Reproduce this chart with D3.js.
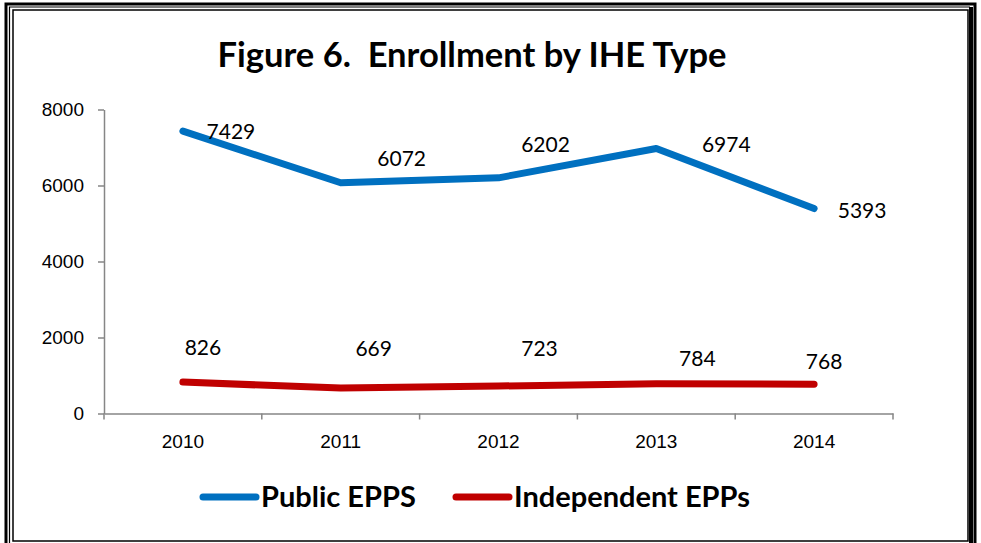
<!DOCTYPE html>
<html>
<head>
<meta charset="utf-8">
<script src="https://cdn.jsdelivr.net/npm/d3@7"></script>
<style>
    body { margin: 0; background: #fff; }
    svg { display: block; font-family: Lato, "Open Sans", sans-serif; }
    .axis path, .axis line { stroke: #868686; stroke-width: 1.5; }
    .axis text { fill: #000; font-size: 19px; }
    .line { fill: none; stroke-width: 7; stroke-linecap: round; stroke-linejoin: round; }
    .label { font-size: 21px; fill: #000; }
</style>
</head>
<body>
<script>

var years = ["2010", "2011", "2012", "2013", "2014"];
var publicEpps = [7429, 6072, 6202, 6974, 5393];
var independentEpps = [826, 669, 723, 784, 768];
var yTicks = [0, 2000, 4000, 6000, 8000];

// where each data label sits, relative to its point
var publicLabelOffset = [[48, 0], [61, -24], [47, -33], [70, -4], [48, 2]];
var independentLabelOffset = [[20, -34], [33, -39], [41, -37], [41, -25], [10, -23]];

var width = 981
    , height = 543
    , margin = {left: 104, right: 88, top: 109.5, bottom: 129.5}
    , w = width - margin.left - margin.right
    , h = height - margin.top - margin.bottom;

var svg = d3.select("body").append("svg")
    .attr("width", width)
    .attr("height", height);

// page border: three nested frames
var border = svg.append("g").attr("fill", "none").attr("stroke", "#000");
border.append("path").attr("stroke-width", 3).attr("d", "M6,560 V4 H975 V560");
border.append("path").attr("stroke-width", 1.2).attr("d", "M9.5,560 V7 H970");
border.append("path").attr("stroke-width", 4).attr("d", "M971,7 V560");
border.append("path").attr("stroke-width", 1.5).attr("d", "M13,541 V10 H968 V541 Z");

svg.append("text")
    .attr("x", 472)
    .attr("y", 67)
    .attr("text-anchor", "middle")
    .style("font-size", "34.5px")
    .style("font-weight", "bold")
    .attr("xml:space", "preserve")
    .text("Figure 6.  Enrollment by IHE Type");

var g = svg.append("g")
    .attr("transform", "translate(" + margin.left + "," + margin.top + ")");

var x = d3.scaleBand()
    .domain(years)
    .range([0, w]);

var y = d3.scaleLinear()
    .domain([0, 8000])
    .range([h, 0]);

var xAxis = d3.axisBottom(x)
    .tickSize(0)
    .tickPadding(21);

var gx = g.append("g")
    .attr("class", "axis axis--x")
    .attr("transform", "translate(0," + h + ")")
    .call(xAxis);

// Excel-style ticks between categories
gx.selectAll(".sep")
    .data(d3.range(years.length + 1))
    .enter().append("line")
    .attr("class", "sep")
    .attr("x1", function(i) { return i * x.step(); })
    .attr("x2", function(i) { return i * x.step(); })
    .attr("y1", 0)
    .attr("y2", 6);

g.append("g")
    .attr("class", "axis axis--y")
    .call(d3.axisLeft(y).tickValues(yTicks).tickFormat(d3.format("d"))
        .tickSizeOuter(0).tickSizeInner(6).tickPadding(14));

var line = d3.line()
    .x(function(d, i) { return x(years[i]) + x.bandwidth() / 2; })
    .y(function(d) { return y(d); });

var series = [
    {values: publicEpps, color: "#0070C0", offsets: publicLabelOffset},
    {values: independentEpps, color: "#C00000", offsets: independentLabelOffset}
];

series.forEach(function(s) {
    g.append("path")
        .datum(s.values)
        .attr("class", "line")
        .attr("stroke", s.color)
        .attr("d", line);

    g.selectAll(null)
        .data(s.values)
        .enter().append("text")
        .attr("class", "label")
        .attr("text-anchor", "middle")
        .attr("dy", "0.35em")
        .attr("x", function(d, i) { return x(years[i]) + x.bandwidth() / 2 + s.offsets[i][0]; })
        .attr("y", function(d, i) { return y(d) + s.offsets[i][1]; })
        .text(function(d) { return d; });
});

// legend
var legend = [
    {name: "Public EPPS", color: "#0070C0", x: 203},
    {name: "Independent EPPs", color: "#C00000", x: 456}
];

var lg = svg.append("g").selectAll("g")
    .data(legend)
    .enter().append("g")
    .attr("transform", function(d) { return "translate(" + d.x + ",497)"; });

lg.append("line")
    .attr("x2", 53)
    .attr("stroke", function(d) { return d.color; })
    .attr("stroke-width", 7)
    .attr("stroke-linecap", "round");

lg.append("text")
    .attr("x", 58)
    .attr("dy", "0.35em")
    .style("font-size", "29px")
    .style("font-weight", "bold")
    .text(function(d) { return d.name; });

</script>
</body>
</html>
